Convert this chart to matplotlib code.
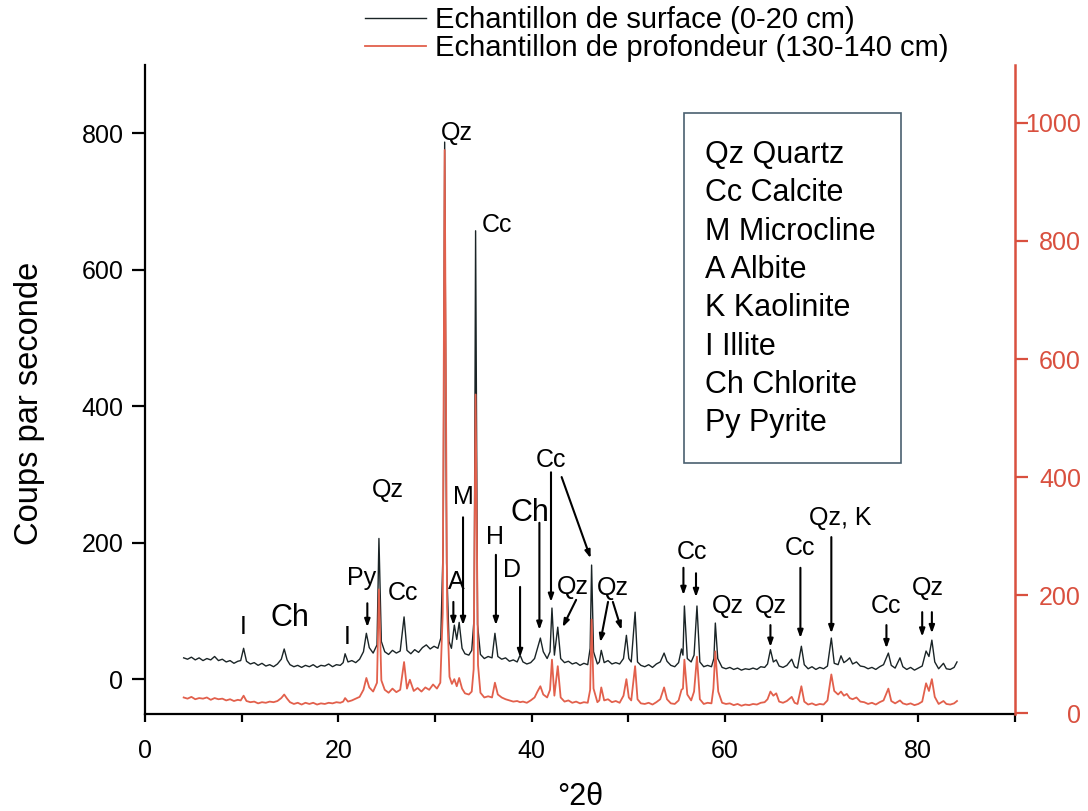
import matplotlib
matplotlib.use('Agg')
import matplotlib.pyplot as plt
from matplotlib.patches import Rectangle

plt.rcParams['font.family'] = ['Liberation Sans', 'DejaVu Sans']

# ---------------- data ----------------
surface_2theta = [4.0, 4.4, 4.8, 5.2, 5.6, 6.0, 6.4, 6.8, 7.2, 7.6, 8.0, 8.4, 8.8, 9.2, 9.6, 9.9,
                  10.2, 10.5, 10.9, 11.3, 11.7, 12.1, 12.5, 12.9, 13.3, 13.7, 14.1, 14.4, 14.7, 15.0,
                  15.4, 15.8, 16.2, 16.6, 17.0, 17.4, 17.8, 18.2, 18.6, 19.0, 19.4, 19.8, 20.2, 20.5,
                  20.7, 21.0, 21.4, 21.8, 22.2, 22.6, 22.9, 23.2, 23.6, 24.0, 24.2, 24.45, 24.8, 25.2,
                  25.6, 26.0, 26.4, 26.8, 27.1, 27.5, 27.9, 28.3, 28.7, 29.1, 29.5, 29.9, 30.3, 30.6,
                  30.85, 31.0, 31.2, 31.45, 31.7, 32.0, 32.25, 32.5, 32.8, 33.1, 33.5, 33.8, 34.05, 34.2,
                  34.4, 34.7, 35.1, 35.5, 35.9, 36.2, 36.5, 36.9, 37.3, 37.7, 38.1, 38.5, 38.8, 39.1,
                  39.5, 39.9, 40.3, 40.6, 40.9, 41.2, 41.6, 41.9, 42.1, 42.35, 42.7, 43.0, 43.4, 43.8,
                  44.2, 44.6, 45.0, 45.4, 45.8, 46.05, 46.2, 46.4, 46.8, 47.0, 47.2, 47.5, 47.9, 48.3,
                  48.7, 49.1, 49.5, 49.8, 50.05, 50.3, 50.7, 50.95, 51.3, 51.7, 52.1, 52.5, 52.9, 53.3,
                  53.7, 54.0, 54.4, 54.8, 55.2, 55.5, 55.65, 55.8, 56.1, 56.5, 56.8, 57.1, 57.4, 57.8,
                  58.2, 58.6, 58.85, 59.0, 59.25, 59.7, 60.1, 60.5, 60.9, 61.3, 61.7, 62.1, 62.5, 62.9,
                  63.3, 63.7, 64.1, 64.4, 64.7, 65.0, 65.3, 65.6, 66.0, 66.4, 66.9, 67.2, 67.5, 67.9,
                  68.2, 68.6, 69.0, 69.4, 69.8, 70.2, 70.6, 71.0, 71.3, 71.7, 72.0, 72.3, 72.6, 72.9,
                  73.2, 73.6, 74.0, 74.4, 74.8, 75.2, 75.6, 76.0, 76.4, 76.9, 77.2, 77.6, 78.1, 78.4,
                  78.8, 79.2, 79.6, 80.0, 80.4, 80.8, 81.1, 81.4, 81.7, 82.1, 82.6, 82.9, 83.3, 83.7, 84.0]
surface_counts = [31, 29, 32, 28, 31, 27, 30, 28, 33, 27, 29, 25, 27, 23, 26, 27,
                  45, 26, 22, 24, 20, 23, 19, 21, 18, 22, 29, 44, 28, 21,
                  18, 20, 17, 20, 18, 21, 17, 20, 19, 22, 18, 21, 20, 24,
                  37, 25, 27, 24, 29, 40, 67, 46, 38, 50, 206, 55, 40, 36,
                  42, 38, 41, 91, 42, 37, 43, 39, 46, 50, 44, 48, 45, 60,
                  200, 787, 170, 55, 45, 79, 58, 83, 45, 37, 35, 42, 90, 657,
                  80, 36, 30, 33, 31, 67, 33, 29, 31, 26, 28, 25, 35, 25,
                  22, 24, 30, 45, 60, 40, 30, 40, 104, 35, 76, 30, 24, 26,
                  22, 24, 20, 23, 21, 45, 167, 40, 22, 25, 42, 24, 27, 22,
                  24, 22, 30, 64, 30, 25, 98, 25, 20, 18, 21, 17, 22, 25,
                  38, 26, 20, 18, 24, 44, 35, 107, 30, 25, 35, 107, 25, 18,
                  20, 18, 30, 82, 30, 17, 15, 17, 14, 16, 13, 15, 14, 16,
                  14, 18, 17, 22, 43, 25, 28, 19, 17, 20, 29, 18, 16, 48,
                  21, 15, 18, 14, 17, 15, 19, 60, 23, 21, 34, 24, 27, 31,
                  22, 25, 19, 18, 15, 17, 14, 18, 21, 38, 20, 16, 31, 18,
                  14, 17, 13, 16, 19, 41, 33, 57, 25, 15, 23, 15, 14, 17, 25]

deep_2theta = [4.0, 4.4, 4.8, 5.2, 5.6, 6.0, 6.4, 6.8, 7.2, 7.6, 8.0, 8.4, 8.8, 9.2, 9.6, 9.9,
               10.2, 10.5, 10.9, 11.3, 11.7, 12.1, 12.5, 12.9, 13.3, 13.7, 14.1, 14.4, 14.7, 15.0,
               15.4, 15.8, 16.2, 16.6, 17.0, 17.4, 17.8, 18.2, 18.6, 19.0, 19.4, 19.8, 20.2, 20.5,
               20.7, 21.0, 21.4, 21.8, 22.2, 22.6, 22.9, 23.2, 23.6, 24.0, 24.2, 24.45, 24.8, 25.2,
               25.6, 26.0, 26.4, 26.8, 27.1, 27.4, 27.8, 28.2, 28.6, 29.0, 29.4, 29.8, 30.2, 30.55,
               30.8, 31.0, 31.25, 31.5, 31.75, 32.0, 32.25, 32.5, 32.8, 33.1, 33.5, 33.8, 34.0, 34.2,
               34.45, 34.7, 35.1, 35.5, 35.9, 36.2, 36.5, 36.9, 37.3, 37.7, 38.1, 38.5, 38.8, 39.1,
               39.5, 39.9, 40.3, 40.6, 40.9, 41.2, 41.6, 41.9, 42.1, 42.35, 42.7, 43.0, 43.4, 43.8,
               44.2, 44.6, 45.0, 45.4, 45.8, 46.05, 46.2, 46.4, 46.8, 47.0, 47.2, 47.5, 47.9, 48.3,
               48.7, 49.1, 49.5, 49.8, 50.05, 50.3, 50.7, 50.95, 51.3, 51.7, 52.1, 52.5, 52.9, 53.3,
               53.7, 54.0, 54.4, 54.8, 55.2, 55.5, 55.65, 55.8, 56.1, 56.5, 56.8, 57.1, 57.4, 57.8,
               58.2, 58.6, 58.8, 59.0, 59.3, 59.7, 60.1, 60.5, 60.9, 61.3, 61.7, 62.1, 62.5, 62.9,
               63.3, 63.7, 64.1, 64.4, 64.7, 65.0, 65.3, 65.6, 66.0, 66.4, 66.9, 67.2, 67.5, 67.9,
               68.2, 68.6, 69.0, 69.4, 69.8, 70.2, 70.6, 71.0, 71.3, 71.7, 72.0, 72.3, 72.6, 72.9,
               73.2, 73.6, 74.0, 74.4, 74.8, 75.2, 75.6, 76.0, 76.4, 76.9, 77.2, 77.6, 78.1, 78.4,
               78.8, 79.2, 79.6, 80.0, 80.4, 80.8, 81.1, 81.4, 81.7, 82.1, 82.6, 82.9, 83.3, 83.7, 84.0]
deep_counts = [27, 25, 28, 24, 26, 25, 27, 23, 26, 24, 25, 22, 24, 21, 23, 22,
               30, 21, 19, 20, 17, 19, 18, 20, 19, 21, 26, 32, 25, 19,
               16, 18, 15, 18, 16, 18, 15, 17, 16, 18, 17, 19, 18, 20,
               26, 20, 22, 25, 28, 40, 60, 44, 37, 52, 210, 56, 40, 35,
               42, 36, 40, 87, 42, 57, 38, 43, 37, 44, 40, 49, 42, 52,
               170, 954, 180, 62, 50, 58, 46, 60, 42, 34, 32, 37, 75, 540,
               82, 35, 27, 29, 27, 52, 32, 27, 24, 22, 20, 21, 19, 20,
               18, 22, 27, 37, 46, 32, 27, 40, 91, 30, 80, 27, 20, 22,
               18, 20, 17, 19, 18, 40, 159, 42, 19, 22, 44, 22, 24, 19,
               21, 18, 30, 58, 27, 22, 80, 24, 17, 16, 18, 15, 19, 24,
               44, 24, 17, 16, 22, 40, 42, 91, 32, 22, 37, 96, 24, 16,
               18, 17, 42, 105, 37, 18, 16, 17, 14, 16, 13, 15, 14, 16,
               15, 18, 19, 24, 37, 30, 34, 20, 18, 21, 28, 18, 16, 46,
               20, 15, 17, 14, 16, 15, 22, 66, 38, 32, 37, 30, 33, 26,
               24, 27, 20, 19, 16, 18, 15, 19, 22, 42, 21, 17, 22, 17,
               15, 17, 14, 16, 20, 51, 38, 58, 28, 16, 21, 16, 15, 17, 21]

tick_x = [0, 20, 40, 60, 80]
tick_left = [0, 200, 400, 600, 800]
tick_right = [0, 200, 400, 600, 800, 1000]
series_labels = ['Echantillon de surface (0-20 cm)', 'Echantillon de profondeur (130-140 cm)']
mineral_key = ['Qz Quartz', 'Cc Calcite', 'M Microcline', 'A Albite', 'K Kaolinite',
               'I Illite', 'Ch Chlorite', 'Py Pyrite']

# peak labels: text, x, y (left-axis units), big?
peak_labels = ['I', 'Ch', 'I', 'Py', 'Qz', 'Cc', 'Qz', 'A', 'M', 'Cc', 'H', 'D', 'Ch', 'Cc',
               'Qz', 'Qz', 'Cc', 'Qz', 'Qz', 'Cc', 'Qz, K', 'Cc', 'Qz']
label_x = [10.2, 15.0, 20.9, 22.4, 25.1, 26.7, 32.3, 32.2, 32.9, 36.4, 36.2, 38.0, 39.8, 42.0,
           44.3, 48.4, 56.6, 60.3, 64.7, 67.8, 71.9, 76.7, 81.0]
label_y = [76, 89, 62, 148, 277, 126, 800, 142, 267, 665, 208, 160, 243, 321,
           135, 133, 186, 107, 107, 192, 236, 107, 133]
label_big = [False, True, False, False, False, False, False, False, False, False, False, False,
             True, False, False, False, False, False, False, False, False, False, False]

# arrows: tail (x, y) -> tip (x, y), left-axis units
arrow_tail_x = [23.0, 31.9, 32.9, 36.3, 38.8, 40.8, 42.0, 43.1, 44.6, 47.9, 48.4, 55.7, 57.0,
                64.7, 67.8, 71.0, 76.7, 80.4, 81.4]
arrow_tail_y = [111, 113, 237, 182, 135, 229, 303, 296, 116, 113, 113, 163, 155,
                79, 163, 208, 79, 98, 98]
arrow_tip_x = [23.0, 31.9, 32.9, 36.3, 38.8, 40.8, 42.0, 46.1, 43.2, 47.1, 49.3, 55.7, 57.0,
               64.7, 67.8, 71.0, 76.7, 80.4, 81.4]
arrow_tip_y = [76, 79, 79, 79, 32, 72, 113, 177, 76, 54, 72, 123, 120,
               47, 60, 67, 45, 62, 67]

# ---------------- figure ----------------
W, H = 1088, 811
fig = plt.figure(figsize=(W / 100, H / 100), dpi=100)
ax = fig.add_axes([145 / W, 1 - 714 / H, 870 / W, 649 / H])
ax2 = ax.twinx()

black = '#1a2426'
red = '#e2604c'
red_axis = '#d9503f'

l1, = ax.plot(surface_2theta, surface_counts, color=black, lw=1.0)
l2, = ax2.plot(deep_2theta, deep_counts, color=red, lw=1.3)

ax.set_xlim(0, 90)
ax.set_ylim(-51.3, 900)
ax2.set_ylim(-1, 1098)

for s in ['top', 'right']:
    ax.spines[s].set_visible(False)
for s in ['top', 'left', 'bottom']:
    ax2.spines[s].set_visible(False)
ax.spines['left'].set_linewidth(1.6)
ax.spines['bottom'].set_linewidth(1.6)
ax2.spines['right'].set_linewidth(1.8)
ax2.spines['right'].set_color(red_axis)

ax.set_xticks(tick_x)
ax.set_xticks([10, 30, 50, 70, 90], minor=True)
ax.set_yticks(tick_left)
ax.tick_params(axis='x', which='both', direction='out', length=6, width=1.6, pad=12, labelsize=18)
ax.tick_params(axis='y', direction='out', length=9.5, width=1.6, pad=6, labelsize=18)
ax2.set_yticks(tick_right)
ax2.tick_params(axis='y', direction='out', length=9.5, width=1.6, pad=38, labelsize=18,
                colors=red_axis)
for lbl in ax2.get_yticklabels():
    lbl.set_ha('right')

fig.text(30 / W, 1 - 403 / H, 'Coups par seconde', rotation=90, ha='center', va='center',
         fontsize=23.5)
fig.text(580 / W, 1 - 797 / H, '°2θ', ha='center', va='center', fontsize=22)

# peak labels and arrows
for t, x, y, big in zip(peak_labels, label_x, label_y, label_big):
    ax.text(x, y, t, ha='center', va='center', fontsize=22 if big else 18, color='black')
for tx, ty, hx, hy in zip(arrow_tail_x, arrow_tail_y, arrow_tip_x, arrow_tip_y):
    ax.annotate('', xy=(hx, hy), xytext=(tx, ty),
                arrowprops=dict(arrowstyle='-|>,head_length=0.45,head_width=0.16',
                                color='black', lw=1.5, shrinkA=0, shrinkB=0))

# mineral key box
fig.patches.append(Rectangle((684 / W, 1 - 463 / H), 217 / W, 350 / H, transform=fig.transFigure,
                             fill=False, edgecolor='#4a6070', lw=1.2))
key_y = [155, 193, 232, 270, 308, 347, 385, 423]
for t, yy in zip(mineral_key, key_y):
    fig.text(705 / W, 1 - yy / H, t, ha='left', va='center', fontsize=22)

# legend at top
fig.legend([l1, l2], series_labels, loc='upper left', bbox_to_anchor=(362 / W, 1 - 3 / H),
           frameon=False, fontsize=21, handlelength=2.1, handletextpad=0.3,
           labelspacing=0.0, borderpad=0.1, borderaxespad=0)

fig.savefig('out.png', dpi=100)
